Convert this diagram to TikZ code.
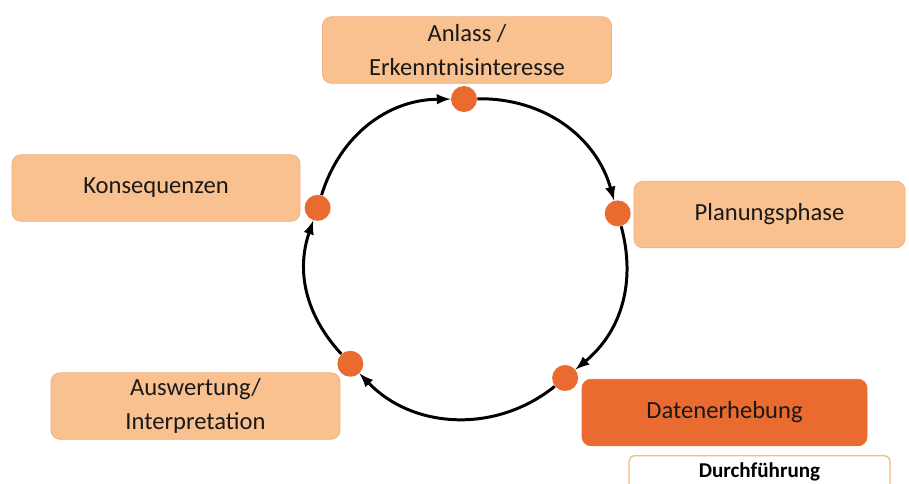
\documentclass[tikz,border=0pt]{standalone}
\usepackage{fontspec}
\setmainfont{Carlito}
\usepackage{xcolor}
\usepackage{tikz}
\usetikzlibrary{positioning}

\definecolor{phaseLight}{HTML}{FAC190}
\definecolor{phaseLine}{HTML}{F2AE78}
\definecolor{phaseDark}{HTML}{EA6B30}
\definecolor{durchLine}{HTML}{F0C080}

\tikzset{
    phase/.style={draw=phaseLine, fill=phaseLight, rounded corners=0.18cm, minimum width=5.78cm, minimum height=1.33cm, align=center, font=\fontsize{14}{19}\selectfont, text=black!90},
    dot/.style={circle, fill=phaseDark, minimum size=0.52cm, inner sep=0pt},
    cycle arrow/.style={-latex, line width=1.7pt}
}

\begin{document}
\begin{tikzpicture}
        \useasboundingbox (0, 0) rectangle (18.18, -9.66);
        \clip (0, 0) rectangle (18.18, -9.66);

        \coordinate (c) at (9.28, -5.08);

        \node[phase] (anlass) at (9.34, -1.0) {Anlass /\\Erkenntnisinteresse};
        \node[phase] (plan) at (15.39, -4.29) [minimum width=5.42cm] {Planungsphase};
        \node[phase, fill=phaseDark, draw=phaseDark] (erhebung) at (14.49, -8.25) [minimum width=5.7cm] {Datenerhebung};
        \node[phase] (auswertung) at (3.91, -8.12) {Auswertung/\\Interpretation};
        \node[phase] (konsequenzen) at (3.12, -3.76) [minimum width=5.76cm] {Konsequenzen};

        \node[draw=durchLine, line width=0.8pt, fill=white, rounded corners=0.12cm, anchor=north, minimum width=5.22cm, minimum height=1.2cm, text depth=0.62cm, font=\fontsize{12}{14}\selectfont\bfseries] (durch) at (15.19, -9.1) {Durchführung};

        \node[dot] (d1) at ([shift={(90:3.1)}]c) {};
        \node[dot] (d2) at ([shift={(14.8:3.18)}]c) {};
        \node[dot] (d3) at ([shift={(-50.8:3.2)}]c) {};
        \node[dot] (d4) at ([shift={(224:3.16)}]c) {};
        \node[dot] (d5) at ([shift={(162.5:3.07)}]c) {};

        \draw[cycle arrow] (d1) to[bend left=37.6] (d2);
        \draw[cycle arrow] (d2) to[bend left=32.8] (d3);
        \draw[cycle arrow] (d3) to[bend left=42.6] (d4);
        \draw[cycle arrow] (d4) to[bend left=30.8] (d5);
        \draw[cycle arrow] (d5) to[bend left=36.2] (d1);
    \end{tikzpicture}
\end{document}
